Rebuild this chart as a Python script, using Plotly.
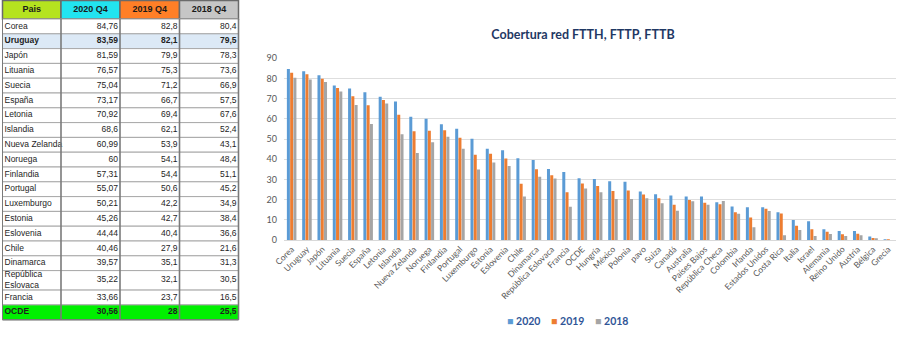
import plotly.graph_objects as go

# ---- data -------------------------------------------------------------
paises = ["Corea", "Uruguay", "Japón", "Lituania", "Suecia", "España", "Letonia",
          "Islandia", "Nueva Zelanda", "Noruega", "Finlandia", "Portugal",
          "Luxemburgo", "Estonia", "Eslovenia", "Chile", "Dinamarca",
          "República Eslovaca", "Francia", "OCDE", "Hungría", "México", "Polonia",
          "pavo", "Suiza", "Canadá", "Australia", "Países Bajos", "República Checa",
          "Colombia", "Irlanda", "Estados Unidos", "Costa Rica", "Italia", "Israel",
          "Alemania", "Reino Unido", "Austria", "Bélgica", "Grecia"]

v2020 = [84.76, 83.59, 81.59, 76.57, 75.04, 73.17, 70.92, 68.6, 60.99, 60,
         57.31, 55.07, 50.21, 45.26, 44.44, 40.46, 39.57, 35.22, 33.66, 30.56,
         30.2, 29.1, 28.8, 24.0, 22.6, 22.1, 21.5, 21.5, 18.7, 16.6,
         16.2, 16.2, 13.7, 9.9, 9.3, 5.3, 4.5, 4.5, 1.7, 0.1]
v2019 = [82.8, 82.1, 79.9, 75.3, 71.2, 66.7, 69.4, 62.1, 53.9, 54.1,
         54.4, 50.6, 42.2, 42.7, 40.4, 27.9, 35.1, 32.1, 23.7, 28,
         26.8, 24.3, 24.5, 22.5, 20.7, 17.4, 19.8, 18.5, 17.7, 13.7,
         11.1, 15.5, 13.1, 7.1, 5.3, 4.1, 2.8, 3.1, 1.0, 0.05]
v2018 = [80.4, 79.5, 78.3, 73.6, 66.9, 57.5, 67.6, 52.4, 43.1, 48.4,
         51.1, 45.2, 34.9, 38.4, 36.6, 21.6, 31.3, 30.5, 16.5, 25.5,
         23.6, 20.3, 20.3, 20.7, 18.2, 14.5, 19.2, 17.4, 19.3, 13.0,
         6.3, 14.4, 2.3, 5.0, 2.0, 3.0, 2.0, 2.3, 0.5, 0.0]

series_names = ["2020", "2019", "2018"]
series_colors = ["#5b9bd5", "#ed7d31", "#a5a5a5"]

# table: top 19 countries + OCDE average
n_tabla = 20
tabla_headers = ["Pais", "2020 Q4", "2019 Q4", "2018 Q4"]
header_colors = ["#b5e31f", "#22e4f0", "#ff7f27", "#c6c6c6"]
destacados = {"Uruguay": "#dce9f6", "OCDE": "#00f000"}

W, H = 900, 338

# table geometry (pixel units on an auxiliary axis pair)
col_edges = [2.5, 61, 120, 179.5, 238.5]
header_h = 19
row_h = 14.8
tall_row_h = 19.5


def fmt(v):
    return f"{v:g}".replace(".", ",")


def label_tabla(p):
    return "República<br>Eslovaca" if p == "República Eslovaca" else p


fig = go.Figure()

for name, color, vals in zip(series_names, series_colors, [v2020, v2019, v2018]):
    fig.add_trace(go.Bar(
        x=paises, y=vals, name=name, marker_color=color,
        marker_line_width=0, showlegend=False,
    ))

# ---- table drawn on x2/y2 --------------------------------------------
shapes = []
row_tops = []
y = header_h
for p in paises[:n_tabla]:
    h = tall_row_h if "<br>" in label_tabla(p) else row_h
    row_tops.append((y, y + h))
    y += h
table_bottom = y

# header cells
for c, col in enumerate(header_colors):
    shapes.append(dict(type="rect", xref="x2", yref="y2",
                       x0=col_edges[c], x1=col_edges[c + 1], y0=0.5, y1=header_h,
                       fillcolor=col, line=dict(color="#6a6a6a", width=1.5), layer="below"))
# row fills + horizontal rules
for (y0, y1), p in zip(row_tops, paises[:n_tabla]):
    shapes.append(dict(type="rect", xref="x2", yref="y2",
                       x0=col_edges[0], x1=col_edges[-1], y0=y0, y1=y1,
                       fillcolor=destacados.get(p, "white"),
                       line=dict(color="#a8a8a8", width=1), layer="below"))
# vertical column rules
for xe in col_edges:
    shapes.append(dict(type="line", xref="x2", yref="y2",
                       x0=xe, x1=xe, y0=header_h, y1=table_bottom,
                       line=dict(color="#7a7a7a", width=1.6 if xe != col_edges[0] else 1)))
shapes.append(dict(type="line", xref="x2", yref="y2",
                   x0=col_edges[0], x1=col_edges[-1], y0=table_bottom, y1=table_bottom,
                   line=dict(color="#7a7a7a", width=1.5)))

# header text
fig.add_trace(go.Scatter(
    x=[(col_edges[c] + col_edges[c + 1]) / 2 for c in range(4)],
    y=[header_h / 2 + 0.5] * 4,
    text=[f"<b>{h}</b>" for h in tabla_headers],
    mode="text", textposition="middle center",
    textfont=dict(family="Liberation Sans", size=9, color="#1a1a1a"),
    xaxis="x2", yaxis="y2", showlegend=False, hoverinfo="skip",
))

mids = [(a + b) / 2 for a, b in row_tops]


def wrap(p, s):
    return f"<b>{s}</b>" if p in destacados else s


fig.add_trace(go.Scatter(
    x=[col_edges[0] + 2] * n_tabla, y=mids,
    text=[wrap(p, label_tabla(p)) for p in paises[:n_tabla]],
    mode="text", textposition="middle right",
    textfont=dict(family="Liberation Sans", size=8.5, color="#1e1e1e"),
    xaxis="x2", yaxis="y2", showlegend=False, hoverinfo="skip",
))
for c, serie in enumerate([v2020, v2019, v2018]):
    fig.add_trace(go.Scatter(
        x=[col_edges[c + 2] - 2] * n_tabla, y=mids,
        text=[wrap(p, fmt(v)) for p, v in zip(paises[:n_tabla], serie[:n_tabla])],
        mode="text", textposition="middle left",
        textfont=dict(family="Liberation Sans", size=8.5, color="#1e1e1e"),
        xaxis="x2", yaxis="y2", showlegend=False, hoverinfo="skip",
    ))

# ---- legend drawn as text entries below the chart --------------------
annotations = []
leg_x = [505, 549, 593]
for name, color, lx in zip(series_names, series_colors, leg_x):
    annotations.append(dict(
        x=lx / W, y=(H - 321) / H, xref="paper", yref="paper",
        xanchor="left", yanchor="middle", showarrow=False,
        text=f'<span style="color:{color}">■</span> <b>{name}</b>',
        font=dict(family="Lato", size=10.5, color="#2f5597"),
    ))

fig.update_layout(
    width=W, height=H,
    margin=dict(l=0, r=0, t=0, b=0),
    paper_bgcolor="white", plot_bgcolor="rgba(0,0,0,0)",
    barmode="group", bargap=0.36, bargroupgap=0.08,
    shapes=shapes, annotations=annotations,
    title=dict(
        text="<b>Cobertura red FTTH, FTTP, FTTB</b>",
        x=583 / W, xanchor="center", y=1 - 35 / H, yanchor="middle",
        font=dict(family="Lato", size=12.5, color="#1f3864"),
    ),
    xaxis=dict(
        domain=[284 / W, 896 / W],
        tickangle=-45, automargin=False,
        tickfont=dict(family="Lato", size=8.5, color="#595959"),
        showline=True, linecolor="#d9d9d9", linewidth=1,
        ticks="", showgrid=False,
    ),
    yaxis=dict(
        domain=[(H - 240) / H, (H - 58.3) / H],
        range=[0, 90], dtick=10, automargin=False,
        gridcolor="#dedede", gridwidth=1, zeroline=False,
        tickfont=dict(family="Lato", size=9, color="#595959"),
        ticks="", ticklabelstandoff=6,
    ),
    xaxis2=dict(domain=[0, 250 / W], range=[0, 250], visible=False, fixedrange=True),
    yaxis2=dict(domain=[0, 1], range=[H, 0], visible=False, fixedrange=True),
)

fig.write_html("out.html")
